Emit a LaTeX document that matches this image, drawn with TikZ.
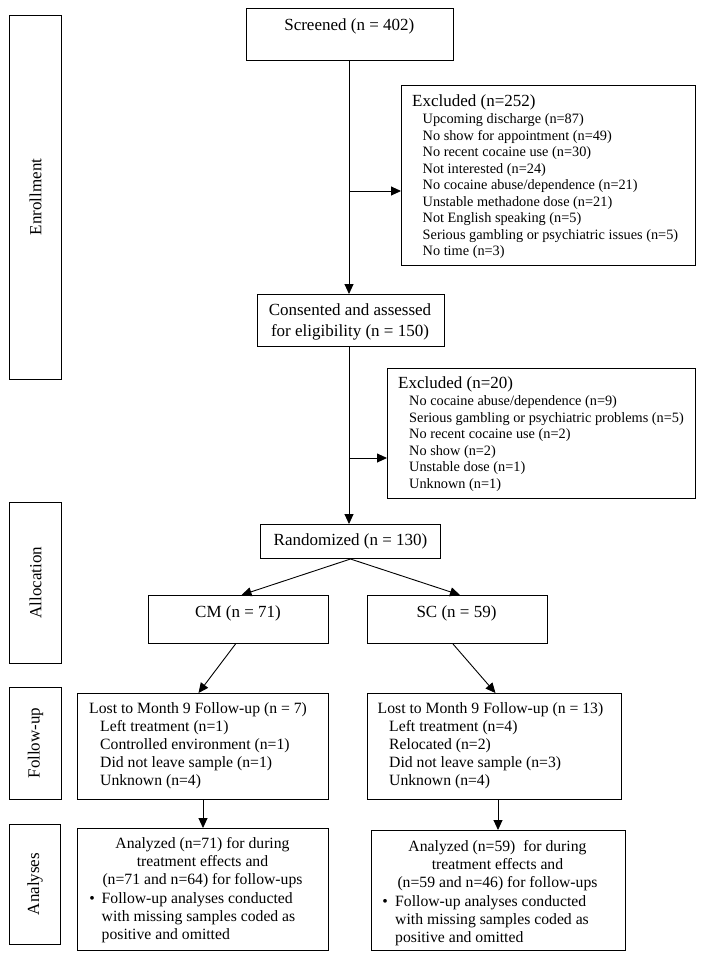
\documentclass[tikz,border=0pt]{standalone}
\usepackage{fontspec}
\setmainfont{Liberation Serif}
\usetikzlibrary{arrows.meta}
\tikzset{flowbox/.style={draw, line width=1pt, inner sep=0pt, anchor=north west},
sidebox/.style={draw, line width=1pt, inner sep=0pt, rotate=90, font=\fontsize{17}{20}\selectfont},
flowarrow/.style={line width=0.9pt, -{Triangle[length=10pt,width=9pt]}},
headtxt/.style={inner sep=0pt, anchor=base, font=\fontsize{17}{21}\selectfont},
titletxt/.style={inner sep=0pt, anchor=base west, font=\fontsize{17}{21}\selectfont},
itemtxt/.style={inner sep=0pt, anchor=north west, align=left, font=\fontsize{14.3}{16.5}\selectfont},
fuptitle/.style={inner sep=0pt, anchor=base west, font=\fontsize{15.7}{18}\selectfont},
fuplist/.style={inner sep=0pt, anchor=north west, align=left, font=\fontsize{15.7}{18}\selectfont},
fupcenter/.style={inner sep=0pt, anchor=north, align=center, font=\fontsize{15.7}{18}\selectfont}}
\begin{document}
\begin{tikzpicture}[x=1pt, y=-1pt]
\useasboundingbox (0,0) rectangle (704,959);
% stage labels on the left
\node[sidebox, minimum width=364pt, minimum height=51.4pt] (enroll) at (35.6,197) {Enrollment};
\node[sidebox, minimum width=161pt, minimum height=51.4pt] (alloc) at (35.6,582.5) {Allocation};
\node[sidebox, minimum width=112pt, minimum height=51.4pt] (fup) at (35.6,743) {Follow-up};
\node[sidebox, minimum width=120pt, minimum height=51pt] (anl) at (35,884) {Analyses};
% enrollment
\node[flowbox, minimum width=206.5pt, minimum height=52pt] (screened) at (246,8) {};
\node[headtxt] (screenedtxt) at (349.3,30) {Screened (n = 402)};
\node[flowbox, minimum width=294pt, minimum height=180pt] (excla) at (401,85) {};
\node[titletxt] (exclatitle) at (412,106) {Excluded (n=252)};
\node[itemtxt] (exclalist) at (422.5,113.4) {Upcoming discharge (n=87)\\No show for appointment (n=49)\\No recent cocaine use (n=30)\\Not interested (n=24)\\No cocaine abuse/dependence (n=21)\\Unstable methadone dose (n=21)\\Not English speaking (n=5)\\Serious gambling or psychiatric issues (n=5)\\No time (n=3)};
\node[flowbox, minimum width=186.5pt, minimum height=52pt] (consent) at (257,294) {};
\node[headtxt, align=center, anchor=north] (consenttxt) at (350,303.5) {Consented and assessed\\for eligibility (n = 150)};
\node[flowbox, minimum width=307.5pt, minimum height=130pt] (exclb) at (387,368) {};
\node[titletxt] (exclbtitle) at (398,388) {Excluded (n=20)};
\node[itemtxt] (exclblist) at (409,395.5) {No cocaine abuse/dependence (n=9)\\Serious gambling or psychiatric problems (n=5)\\No recent cocaine use (n=2)\\No show (n=2)\\Unstable dose (n=1)\\Unknown (n=1)};
% allocation
\node[flowbox, minimum width=180pt, minimum height=34pt, font=\fontsize{17}{21}\selectfont] (random) at (260,524) {Randomized (n = 130)};
\node[flowbox, minimum width=180pt, minimum height=48pt] (cm) at (148,595) {};
\node[headtxt] (cmtxt) at (238,617.5) {CM (n = 71)};
\node[flowbox, minimum width=180pt, minimum height=48pt] (sc) at (366.5,595) {};
\node[headtxt] (sctxt) at (456.5,617.5) {SC (n = 59)};
% follow-up
\node[flowbox, minimum width=251pt, minimum height=106pt] (lostcm) at (77,693) {};
\node[fuptitle] (lostcmtitle) at (89,713) {Lost to Month 9 Follow-up (n = 7)};
\node[fuplist] (lostcmlist) at (100,720.2) {Left treatment (n=1)\\Controlled environment (n=1)\\Did not leave sample (n=1)\\Unknown (n=4)};
\node[flowbox, minimum width=254pt, minimum height=106pt] (lostsc) at (366.5,693) {};
\node[fuptitle] (lostsctitle) at (377.5,713) {Lost to Month 9 Follow-up (n = 13)};
\node[fuplist] (lostsclist) at (389,720.2) {Left treatment (n=4)\\Relocated (n=2)\\Did not leave sample (n=3)\\Unknown (n=4)};
% analyses
\node[flowbox, minimum width=251pt, minimum height=122pt] (ancm) at (77,828) {};
\node[fupcenter] (ancmtxt) at (202.5,837.5) {Analyzed (n=71) for during\\treatment effects and\\(n=71 and n=64) for follow-ups};
\node[fuptitle, anchor=base] (ancmbullet) at (92,903) {\textbullet};
\node[fuplist] (ancmlist) at (101.5,892) {Follow-up analyses conducted\\with missing samples coded as\\positive and omitted};
\node[flowbox, minimum width=254pt, minimum height=120pt] (ansc) at (370.5,830) {};
\node[fupcenter] (ansctxt) at (497.5,840) {Analyzed (n=59)~ for during\\treatment effects and\\(n=59 and n=46) for follow-ups};
\node[fuptitle, anchor=base] (anscbullet) at (385,906) {\textbullet};
\node[fuplist] (ansclist) at (395,895) {Follow-up analyses conducted\\with missing samples coded as\\positive and omitted};
% connectors
\coordinate (brancha) at (349,191);
\coordinate (branchb) at (349,458);
\draw[flowarrow] (brancha |- screened.south) -- (brancha |- consent.north);
\draw[flowarrow] (brancha) -- (brancha -| excla.west);
\draw[flowarrow] (branchb |- consent.south) -- (branchb |- random.north);
\draw[flowarrow] (branchb) -- (branchb -| exclb.west);
\draw[flowarrow] (random.south) -- ([xshift=3pt]cm.north);
\draw[flowarrow] (random.south) -- ([xshift=3pt]sc.north);
\draw[flowarrow] ([xshift=-3pt]cm.south) -- ([xshift=-4.5pt]lostcm.north);
\draw[flowarrow] ([xshift=-4pt]sc.south) -- ([xshift=1.5pt]lostsc.north);
\draw[flowarrow] (lostcm.south) -- (lostcm.south |- ancm.north);
\draw[flowarrow] (ansc.north |- lostsc.south) -- (ansc.north);
\end{tikzpicture}
\end{document}
